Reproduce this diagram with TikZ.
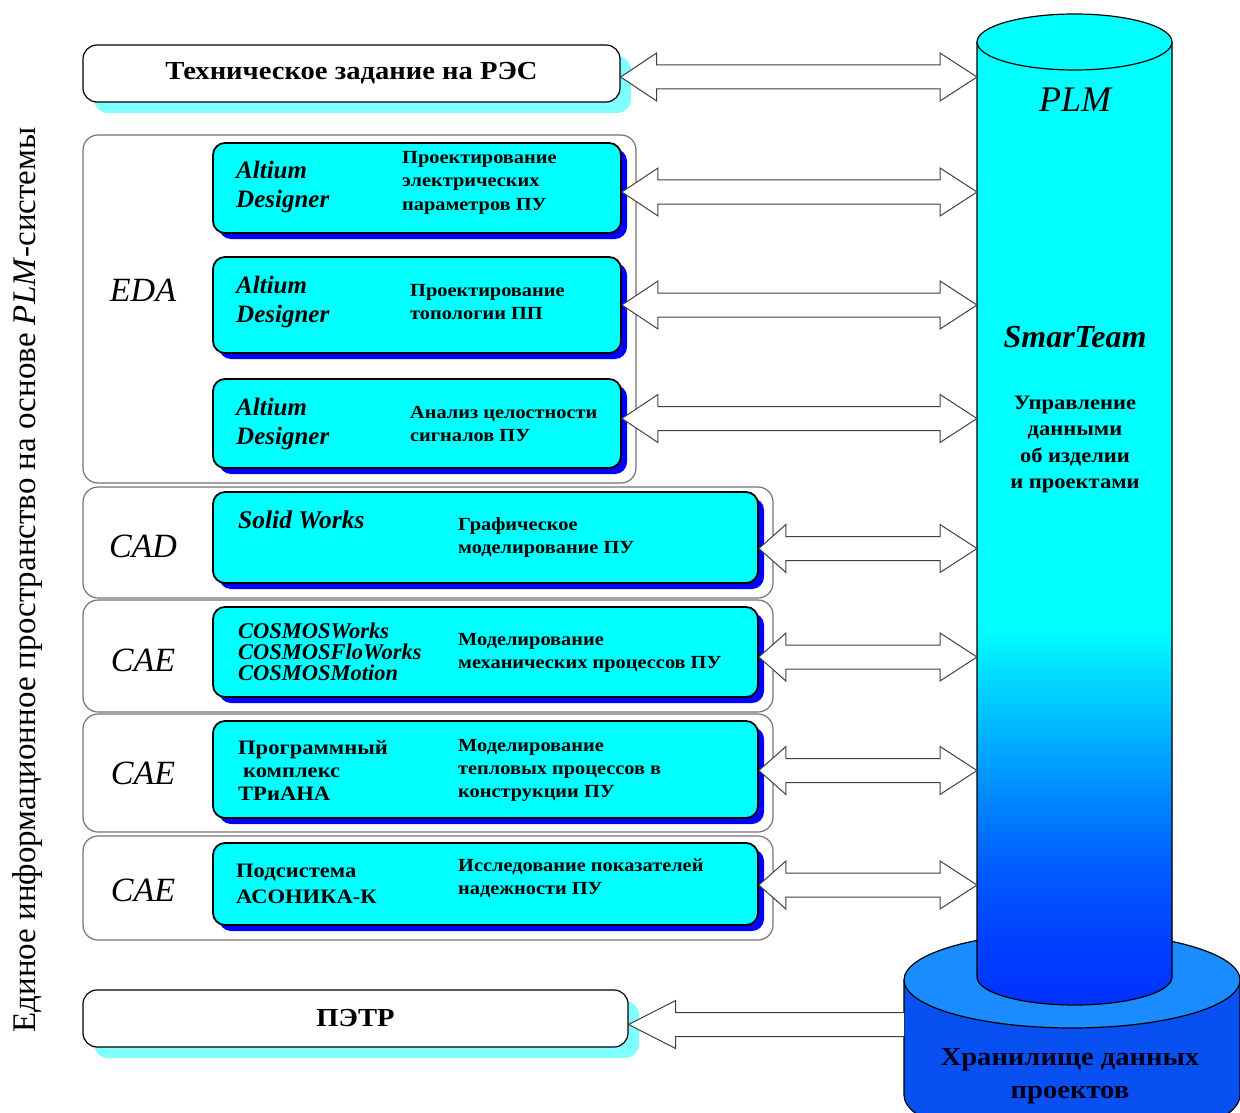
\documentclass[tikz,border=0pt]{standalone}
\usepackage{fontspec}
\setmainfont{Liberation Serif}
\newfontfamily\wide[FakeStretch=1.1]{Liberation Serif}
\usetikzlibrary{shadows,calc}
\definecolor{cy}{HTML}{00FFFF}
\definecolor{lcy}{HTML}{80FFFF}
\definecolor{shblue}{HTML}{0000FF}
\definecolor{diskTop}{HTML}{1A8CFF}
\definecolor{diskSide}{HTML}{0850F2}
\definecolor{cA}{HTML}{0030FF}
\definecolor{cB}{HTML}{0045FF}
\definecolor{cC}{HTML}{0060FF}
\definecolor{cD}{HTML}{00A0FF}
\definecolor{cE}{HTML}{00E0FF}
\pgfdeclareverticalshading{plmshade}{100bp}{color(0bp)=(cA); color(25bp)=(cA); color(29bp)=(cB); color(32.5bp)=(cC); color(37.7bp)=(cD); color(42.4bp)=(cE); color(44.5bp)=(cy); color(75bp)=(cy); color(100bp)=(cy)}
% #1 head length at the left, #2 left node, #3 right coordinate, #4 vertical shift
\newcommand\dblarr[4]{\draw[arr] let \p1=(#2.east), \p2=(#3) in (\x1,\y1+#4pt) -- (\x1+#1pt,\y1+#4pt+24pt) -- (\x1+#1pt,\y1+#4pt+12pt) -- (\x2-37pt,\y1+#4pt+12pt) -- (\x2-37pt,\y1+#4pt+24pt) -- (\x2,\y1+#4pt) -- (\x2-37pt,\y1+#4pt-24pt) -- (\x2-37pt,\y1+#4pt-12pt) -- (\x1+#1pt,\y1+#4pt-12pt) -- (\x1+#1pt,\y1+#4pt-24pt) -- cycle;}
\tikzset{
 grp/.style={draw=black!55, line width=1.2pt, rounded corners=15pt, fill=white},
 wbox/.style={draw=black, line width=1.2pt, rounded corners=14pt, fill=white, drop shadow={shadow xshift=11pt, shadow yshift=-11pt, fill=lcy, opacity=1}},
 cbox/.style={draw=black, line width=1.8pt, rounded corners=12pt, fill=cy, drop shadow={shadow xshift=6pt, shadow yshift=-6pt, fill=shblue, opacity=1}},
 txt/.style={inner sep=0pt, align=left, anchor=west},
 arr/.style={draw=black!75, line width=1pt, fill=white, line join=miter},
 grplab/.style={inner sep=0pt, font=\fontsize{34}{34}\selectfont\itshape},
 prog/.style={txt, font=\fontsize{25}{29}\selectfont\bfseries\itshape},
 edatxt/.style={txt, font=\wide\fontsize{18.5}{23.5}\selectfont\bfseries},
 cadtxt/.style={txt, font=\wide\fontsize{18.5}{23}\selectfont\bfseries},
}
\begin{document}
\begin{tikzpicture}[x=1pt,y=1pt]
\useasboundingbox (0,0) rectangle (1240,-1113);
% side label
\node[rotate=90, font=\fontsize{33}{33}\selectfont] (side) at (28,-580) {Единое информационное пространство на основе \textit{PLM}-системы};
% top box
\node[wbox, minimum width=537, minimum height=57, font=\wide\fontsize{26}{26}\selectfont\bfseries] (tz) at (351.5,-73.5) {Техническое задание на РЭС};
% EDA group
\node[grp, minimum width=553, minimum height=348] (eda) at (359.5,-309) {};
\node[grplab] (edal) at (143,-290) {EDA};
\node[cbox, minimum width=408, minimum height=90] (ed1) at (417,-188) {};
\node[cbox, minimum width=408, minimum height=96] (ed2) at (417,-305) {};
\node[cbox, minimum width=408, minimum height=89] (ed3) at (417,-423.5) {};
\node[prog] (p1) at (236,-186.5) {Altium\\Designer};
\node[prog] (p2) at (236,-301.5) {Altium\\Designer};
\node[prog] (p3) at (236,-423.5) {Altium\\Designer};
\node[edatxt] (t1) at (402,-182.5) {Проектирование\\электрических\\параметров ПУ};
\node[edatxt] (t2) at (410,-302) {Проектирование\\топологии ПП};
\node[edatxt] (t3) at (410,-424) {Анализ целостности\\сигналов ПУ};
% CAD
\node[grp, minimum width=690, minimum height=111] (cad) at (428,-542.5) {};
\node[grplab] (cadl) at (143,-546) {CAD};
\node[cbox, minimum width=545, minimum height=91] (cb1) at (485.5,-537.5) {};
\node[txt, font=\fontsize{25.5}{25}\selectfont\bfseries\itshape] (sw) at (238,-520) {Solid Works};
\node[cadtxt] (t4) at (458,-538) {Графическое\\моделирование ПУ};
% CAE 1
\node[grp, minimum width=690, minimum height=112] (cae1) at (428,-656) {};
\node[grplab] (cae1l) at (143,-660) {CAE};
\node[cbox, minimum width=545, minimum height=90] (cb2) at (485.5,-652) {};
\node[txt, font=\fontsize{22.5}{21}\selectfont\bfseries\itshape] (cos) at (238,-652) {COSMOSWorks\\COSMOSFloWorks\\COSMOSMotion};
\node[cadtxt] (t5) at (458,-652.5) {Моделирование\\механических процессов ПУ};
% CAE 2
\node[grp, minimum width=690, minimum height=118] (cae2) at (428,-773) {};
\node[grplab] (cae2l) at (143,-773) {CAE};
\node[cbox, minimum width=545, minimum height=97] (cb3) at (485.5,-769.5) {};
\node[txt, font=\wide\fontsize{20.5}{23}\selectfont\bfseries] (tri) at (238,-770) {Программный\\\hspace*{5pt}комплекс\\ТРиАНА};
\node[cadtxt] (t6) at (458,-770) {Моделирование\\тепловых процессов в\\конструкции ПУ};
% CAE 3
\node[grp, minimum width=690, minimum height=104] (cae3) at (428,-888) {};
\node[grplab] (cae3l) at (143,-890) {CAE};
\node[cbox, minimum width=545, minimum height=82] (cb4) at (485.5,-884) {};
\node[txt, font=\wide\fontsize{20.5}{26}\selectfont\bfseries] (aso) at (236,-884) {Подсистема\\АСОНИКА-К};
\node[cadtxt] (t7) at (458,-878.5) {Исследование показателей\\надежности ПУ};
% PETR
\node[wbox, minimum width=545, minimum height=57, font=\wide\fontsize{26}{26}\selectfont\bfseries] (petr) at (355.5,-1018.5) {ПЭТР};
% disk
\fill[diskSide] (904,-980) -- (904,-1095) arc[start angle=180,end angle=360,x radius=168,y radius=50] -- (1240,-980) -- cycle;
\draw[line width=1.2pt] (904,-980) -- (904,-1095) arc[start angle=180,end angle=360,x radius=168,y radius=50] -- (1240,-980);
\draw[line width=1.2pt, fill=diskTop] (1072,-980) ellipse[x radius=168, y radius=48];
% cylinder
\fill[shading=plmshade] (977,-42) -- (977,-977) arc[start angle=180,end angle=360,x radius=97.5,y radius=28] -- (1172,-42) -- cycle;
\draw[line width=1.2pt] (977,-42) -- (977,-977) arc[start angle=180,end angle=360,x radius=97.5,y radius=28] -- (1172,-42);
\draw[line width=1.2pt, fill=cy] (1074.5,-42) ellipse[x radius=97.5, y radius=28];
\node[font=\fontsize{36}{36}\selectfont\itshape] (plm) at (1075,-100) {PLM};
\node[font=\fontsize{32}{32}\selectfont\bfseries\itshape] (st) at (1075,-337) {SmarTeam};
\node[align=center, font=\wide\fontsize{20.5}{26.3}\selectfont\bfseries] (upr) at (1075,-444.5) {Управление\\данными\\об изделии\\и проектами};
\node[align=center, font=\wide\fontsize{26}{33}\selectfont\bfseries, text=black!90!blue] (hr) at (1070,-1076.5) {Хранилище данных\\проектов};
% connectors
\coordinate (plmL) at (977,0);
\coordinate (diskL) at (904,0);
\dblarr{36}{tz}{plmL}{-3.5}
\dblarr{36}{ed1}{plmL}{-4}
\dblarr{36}{ed2}{plmL}{0}
\dblarr{36}{ed3}{plmL}{5}
\dblarr{27}{cb1}{plmL}{-11}
\dblarr{27}{cb2}{plmL}{-5}
\dblarr{27}{cb3}{plmL}{-1}
\dblarr{27}{cb4}{plmL}{-1}
\draw[arr] let \p1=(petr.east), \p2=(diskL) in (\x2,\y1-6pt+12pt) -- (\x1+47pt,\y1-6pt+12pt) -- (\x1+47pt,\y1-6pt+24pt) -- (\x1,\y1-6pt) -- (\x1+47pt,\y1-6pt-24pt) -- (\x1+47pt,\y1-6pt-12pt) -- (\x2,\y1-6pt-12pt);
\end{tikzpicture}
\end{document}
